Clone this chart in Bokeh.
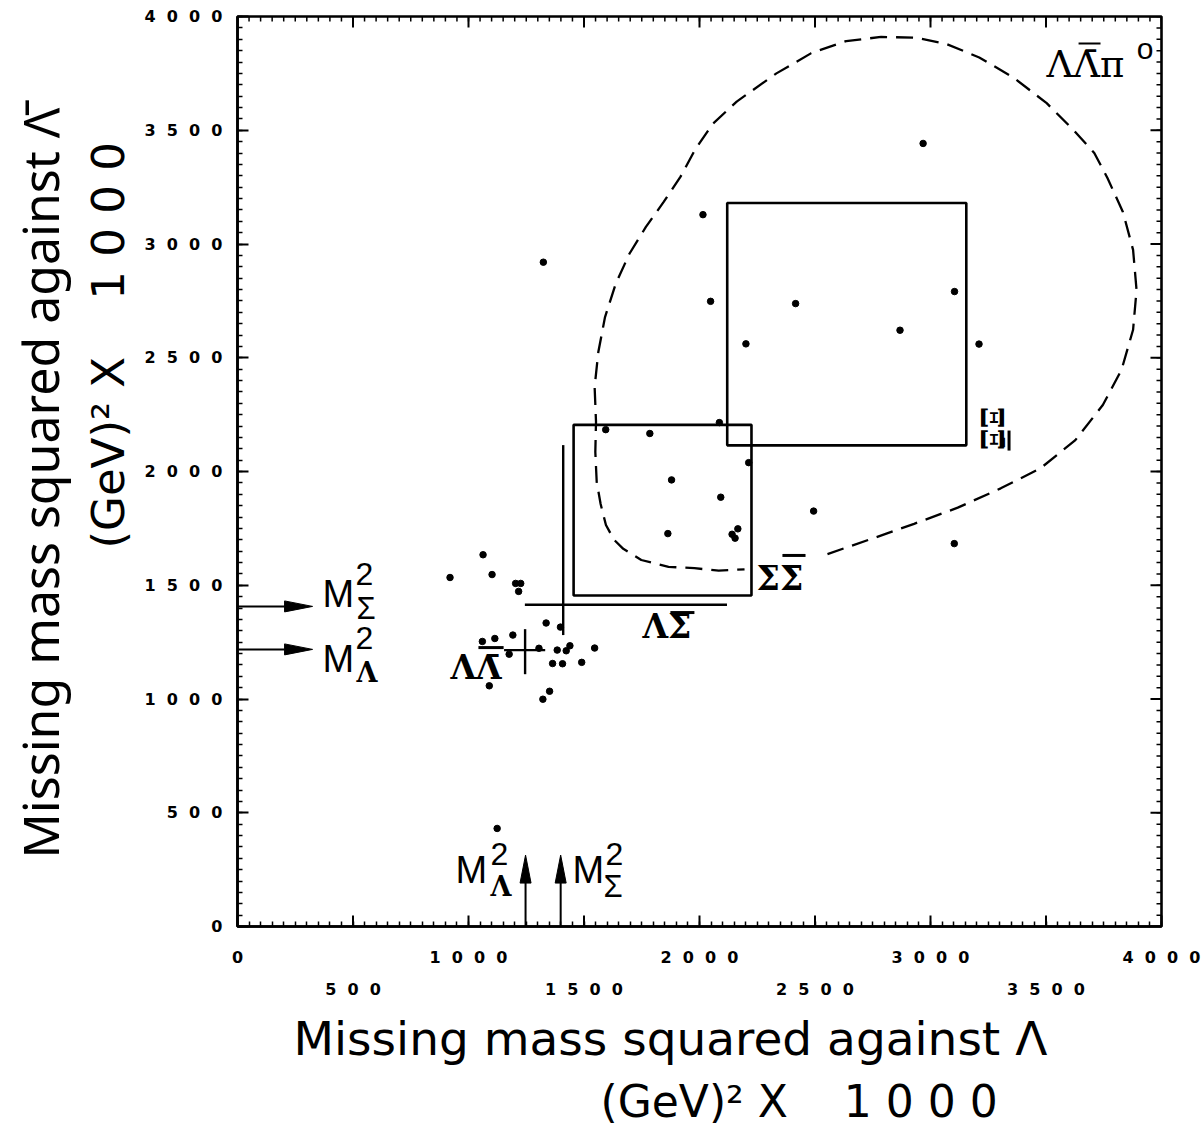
import numpy as np
from bokeh.plotting import figure
from bokeh.models import Range1d, LinearAxis, FixedTicker, Title
from bokeh.core.properties import value
from bokeh.embed import file_html
from bokeh.resources import INLINE

# ---------------- data (units: GeV^2 x 1000) ----------------
event_x = [1063, 920, 1102, 1204, 1226, 1217, 1336, 1398, 1060, 1114,
           1192, 1305, 1176, 1384, 1423, 1439, 1546, 1364, 1407, 1490,
           1090, 1351, 1322, 1594, 1785, 2086, 2213, 1879, 2092, 1863,
           2166, 2141, 2154, 2968, 2015, 2048, 2416, 3104, 2868, 2201,
           3210, 2494, 1324, 1124, 3103]
event_y = [1634, 1534, 1547, 1508, 1508, 1473, 1334, 1316, 1253, 1266,
           1281, 1223, 1197, 1215, 1212, 1234, 1224, 1156, 1155, 1161,
           1058, 1034, 999, 2184, 2167, 2215, 2039, 1963, 1887, 1727,
           1748, 1724, 1707, 3442, 3129, 2748, 2738, 2791, 2621, 2561,
           2560, 1826, 2920, 431, 1683]

# dashed boundary of the Lambda Lambdabar pi0 region
curve_x = [2554, 2756, 2929, 3118, 3304, 3476, 3627, 3746, 3827, 3877,
           3892, 3877, 3833, 3766, 3709, 3621, 3503, 3359, 3211, 3067,
           2937, 2786, 2635, 2484, 2333, 2161, 2058, 1981, 1918, 1845,
           1768, 1696, 1637, 1591, 1562, 1546, 1552, 1549, 1555, 1572,
           1595, 1630, 1670, 1748, 1866, 1978, 2083, 2195]
curve_y = [1637, 1708, 1770, 1841, 1926, 2014, 2138, 2292, 2447, 2623,
           2798, 2974, 3141, 3290, 3400, 3499, 3619, 3732, 3820, 3880,
           3907, 3910, 3892, 3839, 3750, 3626, 3529, 3415, 3296, 3185,
           3075, 2956, 2824, 2679, 2525, 2372, 2218, 2086, 1954, 1857,
           1765, 1700, 1660, 1611, 1581, 1575, 1564, 1570]

# boxes: Sigma Sigmabar and Xi Xibar
box_names = ["ΣΣ̄", "ΞΞ̄"]
box_left = [1455, 2120]
box_right = [2225, 3155]
box_bottom = [1455, 2115]
box_top = [2205, 3180]

# crosses: Lambda Lambdabar and Lambda Sigmabar
cross_names = ["ΛΛ̄", "ΛΣ̄"]
cross_h_y = [1215, 1414]
cross_h_x0 = [1154, 1244]
cross_h_x1 = [1332, 2119]
cross_v_x = [1245, 1410]
cross_v_y0 = [1109, 1281]
cross_v_y1 = [1307, 2116]

# squared masses marked by arrows
mass_names = ["Λ", "Σ"]
m2_on_x = [1247, 1399]
m2_on_y = [1218, 1407]
arrow_tip_x = 325
arrow_tip_y = 314

ticks = [0, 500, 1000, 1500, 2000, 2500, 3000, 3500, 4000]
minor = list(range(0, 4001, 50))
x_row1 = [0, 1000, 2000, 3000, 4000]
x_row2 = [500, 1500, 2500, 3500]

# ---------------- figure ----------------
XS, YS = 0.231, 0.2275   # px per data unit (used for style sizes only)
DY = 14 / YS             # baseline correction for text glyphs

p = figure(x_range=Range1d(0, 4000), y_range=Range1d(0, 4000),
           frame_width=924, frame_height=910,
           min_border_left=237, min_border_right=41,
           min_border_top=16, min_border_bottom=204,
           toolbar_location=None, output_backend="svg")
p.xgrid.visible = False
p.ygrid.visible = False
p.outline_line_color = "black"
p.outline_line_width = 2.6
p.background_fill_color = "white"
p.border_fill_color = "white"


def spaced(t):
    return "\u00a0\u00a0".join(str(t))


def style_axis(ax):
    ax.axis_line_width = 2.6
    ax.axis_line_color = "black"
    ax.major_tick_in = 11
    ax.major_tick_out = 0
    ax.minor_tick_in = 5
    ax.minor_tick_out = 0
    ax.major_tick_line_width = 2
    ax.minor_tick_line_width = 1.5
    ax.major_tick_line_color = "black"
    ax.minor_tick_line_color = "black"
    ax.major_label_text_font = "DejaVu Sans"
    ax.major_label_text_font_style = "bold"
    ax.major_label_text_font_size = "16px"
    ax.major_label_text_color = "black"


xa = p.xaxis[0]
xa.ticker = FixedTicker(ticks=x_row1, minor_ticks=minor)
style_axis(xa)
xa.major_label_overrides = {t: spaced(t) for t in x_row1}
xa.major_label_standoff = 21

xa2 = LinearAxis(ticker=FixedTicker(ticks=x_row2))
style_axis(xa2)
xa2.axis_line_color = None
xa2.major_tick_line_color = None
xa2.minor_tick_line_color = None
xa2.major_label_overrides = {t: spaced(t) for t in x_row2}
xa2.major_label_standoff = 10
p.add_layout(xa2, "below")

ya = p.yaxis[0]
ya.ticker = FixedTicker(ticks=ticks, minor_ticks=minor)
style_axis(ya)
ya.major_label_overrides = {t: spaced(t) for t in ticks}
ya.major_label_standoff = 15

# inward ticks on the other frame edges (and the 500-step ticks of the bottom edge)
maj_y, min_y = 11 / YS, 5 / YS
maj_x, min_x = 11 / XS, 5 / XS
p.segment(x0=minor, y0=[4000] * len(minor), x1=minor, y1=[4000 - min_y] * len(minor),
          line_color="black", line_width=1.5)
p.segment(x0=ticks, y0=[4000] * len(ticks), x1=ticks, y1=[4000 - maj_y] * len(ticks),
          line_color="black", line_width=2)
p.segment(x0=[4000] * len(minor), y0=minor, x1=[4000 - min_x] * len(minor), y1=minor,
          line_color="black", line_width=1.5)
p.segment(x0=[4000] * len(ticks), y0=ticks, x1=[4000 - maj_x] * len(ticks), y1=ticks,
          line_color="black", line_width=2)
p.segment(x0=x_row2, y0=[0] * len(x_row2), x1=x_row2, y1=[maj_y] * len(x_row2),
          line_color="black", line_width=2)

# ---------------- marks ----------------
p.line(curve_x, curve_y, line_color="black", line_width=2.3, line_dash="17 9")

p.quad(left=box_left, right=box_right, bottom=box_bottom, top=box_top,
       fill_color=None, line_color="black", line_width=2.6)

p.segment(x0=cross_h_x0, y0=cross_h_y, x1=cross_h_x1, y1=cross_h_y,
          line_color="black", line_width=2.4)
p.segment(x0=cross_v_x, y0=cross_v_y0, x1=cross_v_x, y1=cross_v_y1,
          line_color="black", line_width=2.4)

p.scatter(event_x, event_y, size=6.5, color="black")

# arrows from the axes at the squared masses
hl_x, hw_y = 28 / XS, 5.5 / YS
hl_y, hw_x = 28 / YS, 5.5 / XS
p.segment(x0=[0] * len(m2_on_y), y0=m2_on_y,
          x1=[arrow_tip_x - hl_x] * len(m2_on_y), y1=m2_on_y,
          line_color="black", line_width=2)
p.patches(xs=[[arrow_tip_x - hl_x, arrow_tip_x, arrow_tip_x - hl_x] for _ in m2_on_y],
          ys=[[y - hw_y, y, y + hw_y] for y in m2_on_y],
          fill_color="black", line_color="black")
p.segment(x0=m2_on_x, y0=[0] * len(m2_on_x),
          x1=m2_on_x, y1=[arrow_tip_y - hl_y] * len(m2_on_x),
          line_color="black", line_width=2)
p.patches(xs=[[x - hw_x, x, x + hw_x] for x in m2_on_x],
          ys=[[arrow_tip_y - hl_y, arrow_tip_y, arrow_tip_y - hl_y] for _ in m2_on_x],
          fill_color="black", line_color="black")

# ---------------- in-plot texts ----------------
dserif = value("DejaVu Serif")
sans = value("Liberation Sans")

# region labels
p.text(x=[922, 1753, 2247], y=[1077 + DY, 1257 + DY, 1468 + DY],
       text=[cross_names[0], cross_names[1], box_names[0]],
       text_font=dserif, text_font_style="bold", text_font_size="33px",
       text_align="left", text_baseline="alphabetic", text_color="black")
p.text(x=[3268], y=[2189], text=[box_names[1]], angle=-np.pi / 2,
       text_font=dserif, text_font_style="bold", text_font_size="31px",
       text_align="center", text_baseline="middle", text_color="black")
p.text(x=[3502], y=[3727 + DY], text=["ΛΛ̄π"],
       text_font=dserif, text_font_size="37px",
       text_align="left", text_baseline="alphabetic", text_color="black")
p.text(x=[3893], y=[3800 + DY], text=["o"],
       text_font=sans, text_font_size="30px",
       text_align="left", text_baseline="alphabetic", text_color="black")

# overbars of the antiparticle symbols (label typography)
bar_x0 = [1043, 1874, 2359]
bar_x1 = [1152, 1978, 2459]
bar_y = [1226, 1380, 1631]
p.segment(x0=bar_x0, y0=bar_y, x1=bar_x1, y1=bar_y, line_color="black", line_width=3)
p.segment(x0=[3641], y0=[3881], x1=[3736], y1=[3881], line_color="black", line_width=2)
p.segment(x0=[3340], y0=[2092], x1=[3340], y1=[2180], line_color="black", line_width=3)

# M^2 labels (left side: Sigma upper, Lambda lower; bottom: Lambda left, Sigma right)
m_x = [368, 368, 944, 1450]
m_y = [1398, 1116, 189, 189]
sup_x = [511, 511, 1095, 1593]
sup_y = [1490, 1208, 259, 259]
sub_x = [515, 515, 1095, 1584]
sub_y = [1336, 1053, 114, 114]
sub_t = [mass_names[1], mass_names[0], mass_names[0], mass_names[1]]
p.text(x=m_x, y=[v + DY for v in m_y], text=["M"] * 4, text_font=sans, text_font_size="38px",
       text_align="left", text_baseline="alphabetic", text_color="black")
p.text(x=sup_x, y=[v + DY for v in sup_y], text=["2"] * 4, text_font=sans, text_font_size="32px",
       text_align="left", text_baseline="alphabetic", text_color="black")
sig_idx = [i for i, t in enumerate(sub_t) if t == "Σ"]
lam_idx = [i for i, t in enumerate(sub_t) if t == "Λ"]
p.text(x=[sub_x[i] for i in sig_idx], y=[sub_y[i] + DY for i in sig_idx], text=["Σ"] * len(sig_idx),
       text_font=sans, text_font_size="31px",
       text_align="left", text_baseline="alphabetic", text_color="black")
p.text(x=[sub_x[i] for i in lam_idx], y=[sub_y[i] + DY for i in lam_idx], text=["Λ"] * len(lam_idx),
       text_font=dserif, text_font_style="bold", text_font_size="27px",
       text_align="left", text_baseline="alphabetic", text_color="black")

# ---------------- axis titles ----------------
unit_text = "(GeV)² X\u00a0\u00a0\u00a0\u00a01\u00a00\u00a00\u00a00"


def title(t, side, size, offset, standoff, font="DejaVu Sans"):
    p.add_layout(Title(text=t, align="left", offset=offset, standoff=standoff,
                       text_font=font, text_font_size=size,
                       text_font_style="normal", text_color="black"), side)

title("Missing mass squared against Λ", "below", "47px", 56, 15)
title(unit_text, "below", "44px", 363, 0)
title(unit_text, "left", "45px", 378, 13)
title("Missing mass squared against Λ̄", "left", "50px", 68, 0, font="Noto Sans")

open("out.html", "w").write(file_html(p, INLINE))
